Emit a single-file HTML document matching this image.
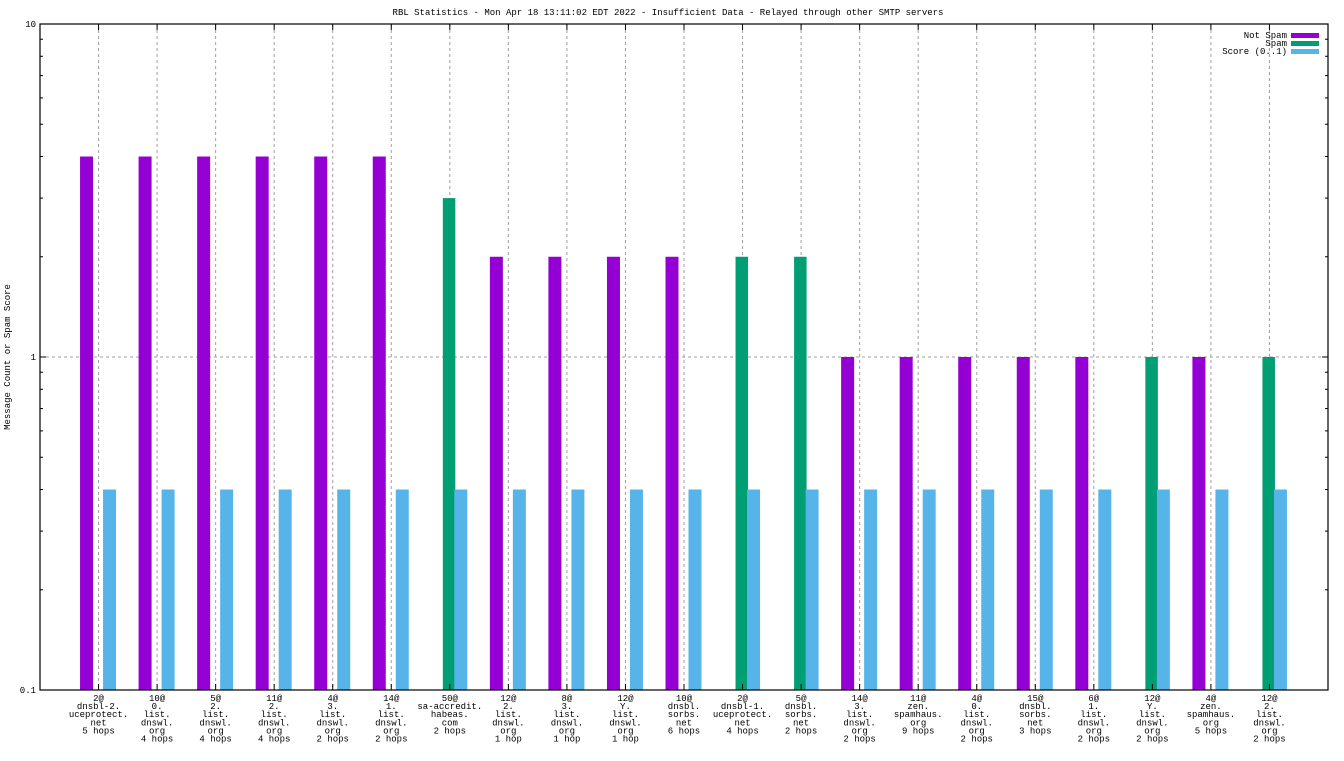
<!DOCTYPE html>
<html><head><meta charset="utf-8"><style>
body{margin:0;background:#fff;}
svg text{font-family:"Liberation Mono","DejaVu Sans Mono",monospace;font-size:9px;fill:#000;}
</style></head><body>
<svg id="chart" width="1344" height="756" xmlns="http://www.w3.org/2000/svg">
<text x="668" y="15" text-anchor="middle">RBL Statistics - Mon Apr 18 13:11:02 EDT 2022 - Insufficient Data - Relayed through other SMTP servers</text>
<text transform="translate(10,357) rotate(-90)" text-anchor="middle">Message Count or Spam Score</text>
<g id="grid"></g><g id="bars"></g><g id="axes"></g><g id="labels"></g>
<g>
<text x="1287" y="38" text-anchor="end">Not Spam</text><rect x="1291" y="33" width="28" height="5" fill="#9400d3"/>
<text x="1287" y="46" text-anchor="end">Spam</text><rect x="1291" y="41" width="28" height="5" fill="#009e73"/>
<text x="1287" y="54" text-anchor="end">Score (0..1)</text><rect x="1291" y="49" width="28" height="5" fill="#56b4e9"/>
</g>
</svg>
<script>
const categories=[
["2@","dnsbl-2.","uceprotect.","net","5 hops"],
["10@","0.","list.","dnswl.","org","4 hops"],
["5@","2.","list.","dnswl.","org","4 hops"],
["11@","2.","list.","dnswl.","org","4 hops"],
["4@","3.","list.","dnswl.","org","2 hops"],
["14@","1.","list.","dnswl.","org","2 hops"],
["50@","sa-accredit.","habeas.","com","2 hops"],
["12@","2.","list.","dnswl.","org","1 hop"],
["8@","3.","list.","dnswl.","org","1 hop"],
["12@","Y.","list.","dnswl.","org","1 hop"],
["10@","dnsbl.","sorbs.","net","6 hops"],
["2@","dnsbl-1.","uceprotect.","net","4 hops"],
["5@","dnsbl.","sorbs.","net","2 hops"],
["14@","3.","list.","dnswl.","org","2 hops"],
["11@","zen.","spamhaus.","org","9 hops"],
["4@","0.","list.","dnswl.","org","2 hops"],
["15@","dnsbl.","sorbs.","net","3 hops"],
["6@","1.","list.","dnswl.","org","2 hops"],
["12@","Y.","list.","dnswl.","org","2 hops"],
["4@","zen.","spamhaus.","org","5 hops"],
["12@","2.","list.","dnswl.","org","2 hops"]];
const notSpam=[4,4,4,4,4,4,0,2,2,2,2,0,0,1,1,1,1,1,0,1,0];
const spam=[0,0,0,0,0,0,3,0,0,0,0,2,2,0,0,0,0,0,1,0,1];
const score=[0.4,0.4,0.4,0.4,0.4,0.4,0.4,0.4,0.4,0.4,0.4,0.4,0.4,0.4,0.4,0.4,0.4,0.4,0.4,0.4,0.4];
const yTicks=[0.1,1,10];
const yTickLabels=["0.1","1","10"];
const L=40,R=1328,T=24,B=690;
const xs=i=>L+(i+1)*(R-L)/22;
const ys=v=>B-(Math.log10(v)+1)*(B-T)/2;
const NS="http://www.w3.org/2000/svg";
function mk(t,a,p){const e=document.createElementNS(NS,t);for(const k in a)e.setAttribute(k,a[k]);document.getElementById(p).appendChild(e);return e;}
categories.forEach((c,i)=>{
 const g=mk('line',{x1:xs(i),x2:xs(i),y1:T,y2:B,stroke:'#a0a0a0','stroke-dasharray':'3,3'},'grid');
 
 
});
const gh=mk('line',{x1:L,x2:R,y1:ys(1),y2:ys(1),stroke:'#a0a0a0','stroke-dasharray':'3,3'},'grid');


categories.forEach((c,i)=>{
 const x=xs(i);
 if(notSpam[i]>0){const r=mk('rect',{x:x-18.5,y:ys(notSpam[i]),width:13,height:B-ys(notSpam[i]),fill:'#9400d3'},'bars');
  
  }
 if(spam[i]>0){const r=mk('rect',{x:x-7,y:ys(spam[i]),width:12.5,height:B-ys(spam[i]),fill:'#009e73'},'bars');
  
  }
 if(score[i]>0){const r=mk('rect',{x:x+4.5,y:ys(score[i]),width:13,height:B-ys(score[i]),fill:'#56b4e9'},'bars');
  
  }
 c.forEach((s,k)=>{const t=mk('text',{x:x,y:B+11+k*8.1,'text-anchor':'middle'},'labels');t.textContent=s;
  
  });
 mk('line',{x1:x,x2:x,y1:B,y2:B-6,stroke:'#000'},'axes');
 mk('line',{x1:x,x2:x,y1:T,y2:T+6,stroke:'#000'},'axes');
});
const fr=mk('rect',{x:L,y:T,width:R-L,height:B-T,fill:'none',stroke:'#000','stroke-width':1.2},'axes');


yTicks.forEach((v,i)=>{
 const t=mk('text',{x:L-4,y:ys(v)+3,'text-anchor':'end'},'labels');t.textContent=yTickLabels[i];
 
 
 mk('line',{x1:L,x2:L+6,y1:ys(v),y2:ys(v),stroke:'#000'},'axes');
 mk('line',{x1:R,x2:R-6,y1:ys(v),y2:ys(v),stroke:'#000'},'axes');
 if(i<yTicks.length-1)for(let m=2;m<10;m++){const y=ys(v*m);
  mk('line',{x1:L,x2:L+3,y1:y,y2:y,stroke:'#000'},'axes');
  mk('line',{x1:R,x2:R-3,y1:y,y2:y,stroke:'#000'},'axes');}
});
</script>
</body></html>
